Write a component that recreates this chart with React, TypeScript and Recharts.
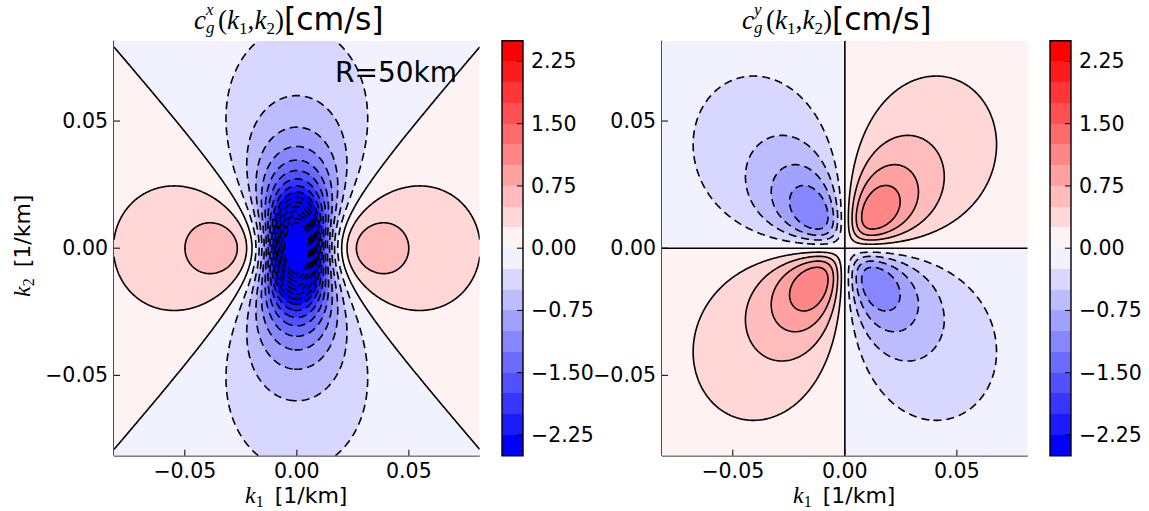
import React, { useMemo } from 'react';
import { ScatterChart, Scatter, XAxis, YAxis, ReferenceArea } from 'recharts';

// ---- data ----
const R_KM = 50; // deformation radius, "R=50km"
const BETA = 2e-11; // 1/(m s)
const K_MAX = 0.0816; // axis extent [1/km]
const AXIS_TICKS = [-0.05, 0, 0.05];
const FILL_LEVELS = [-2.5, -2.25, -2, -1.75, -1.5, -1.25, -1, -0.75, -0.5, -0.25, 0, 0.25, 0.5, 0.75, 1, 1.25, 1.5, 1.75, 2, 2.25, 2.5];
const COLORBAR_TICKS = [-2.25, -1.5, -0.75, 0, 0.75, 1.5, 2.25];
const LINE_LEVELS_X = [-4, -3.75, -3.5, -3.25, -3, -2.75, -2.5, -2.25, -2, -1.75, -1.5, -1.25, -1, -0.75, -0.5, -0.25, 0, 0.25, 0.5];
const LINE_LEVELS_Y = [-1, -0.75, -0.5, -0.25, 0, 0.25, 0.5, 0.75, 1];
const CORNERS = [
  { k1: -K_MAX, k2: -K_MAX },
  { k1: K_MAX, k2: K_MAX },
];

// ---- Rossby-wave group velocity fields [cm/s], k in 1/km ----
const F_DEF = 1 / (R_KM * R_KM);
const SCALE = BETA * 1e6 * 100;
const cgx = (k: number, l: number) => {
  const d = k * k + l * l + F_DEF;
  return (SCALE * (k * k - l * l - F_DEF)) / (d * d);
};
const cgy = (k: number, l: number) => {
  const d = k * k + l * l + F_DEF;
  return (SCALE * 2 * k * l) / (d * d);
};

const NB = FILL_LEVELS.length - 1;
const bandOf = (v: number) => {
  let i = Math.floor((v - FILL_LEVELS[0]) / (FILL_LEVELS[1] - FILL_LEVELS[0]));
  if (i < 0) i = 0;
  if (i > NB - 1) i = NB - 1;
  return i;
};
const bandColor = (i: number) => {
  const p = i / (NB - 1);
  if (p < 0.5) {
    const c = Math.round(255 * 2 * p);
    return `rgb(${c},${c},255)`;
  }
  const c = Math.round(255 * 2 * (1 - p));
  return `rgb(255,${c},${c})`;
};

// ---- marching squares (data space) ----
const GRID_N = 301;
function traceLevel(vals: Float64Array, n: number, c: Float64Array, level: number): number[][] {
  const M = n + 1;
  const adj = new Map<number, number[]>();
  const pts = new Map<number, [number, number]>();
  const v = (i: number, j: number) => vals[j * M + i];
  const hp = (i: number, j: number) => {
    const id = j * n + i;
    if (!pts.has(id)) {
      const a = v(i, j), b = v(i + 1, j);
      const t = (level - a) / (b - a);
      pts.set(id, [c[i] + t * (c[i + 1] - c[i]), c[j]]);
    }
    return id;
  };
  const vp = (i: number, j: number) => {
    const id = n * M + j * M + i;
    if (!pts.has(id)) {
      const a = v(i, j), b = v(i, j + 1);
      const t = (level - a) / (b - a);
      pts.set(id, [c[i], c[j] + t * (c[j + 1] - c[j])]);
    }
    return id;
  };
  const link = (a: number, b: number) => {
    if (!adj.has(a)) adj.set(a, []);
    if (!adj.has(b)) adj.set(b, []);
    adj.get(a)!.push(b);
    adj.get(b)!.push(a);
  };
  for (let j = 0; j < n; j++) {
    for (let i = 0; i < n; i++) {
      const a0 = v(i, j), a1 = v(i + 1, j), a2 = v(i + 1, j + 1), a3 = v(i, j + 1);
      const idx = (a0 >= level ? 1 : 0) | (a1 >= level ? 2 : 0) | (a2 >= level ? 4 : 0) | (a3 >= level ? 8 : 0);
      if (idx === 0 || idx === 15) continue;
      const B = () => hp(i, j), R = () => vp(i + 1, j), T = () => hp(i, j + 1), L = () => vp(i, j);
      const centerHigh = (a0 + a1 + a2 + a3) / 4 >= level;
      switch (idx) {
        case 1: case 14: link(L(), B()); break;
        case 2: case 13: link(B(), R()); break;
        case 3: case 12: link(L(), R()); break;
        case 4: case 11: link(R(), T()); break;
        case 6: case 9: link(B(), T()); break;
        case 7: case 8: link(L(), T()); break;
        case 5:
          if (centerHigh) { link(B(), R()); link(T(), L()); } else { link(L(), B()); link(R(), T()); }
          break;
        case 10:
          if (centerHigh) { link(L(), B()); link(R(), T()); } else { link(B(), R()); link(T(), L()); }
          break;
      }
    }
  }
  const used = new Set<number>();
  const polys: number[][] = [];
  const walk = (start: number) => {
    const out: number[] = [];
    let cur = start;
    while (true) {
      used.add(cur);
      const p = pts.get(cur)!;
      out.push(p[0], p[1]);
      const nb = adj.get(cur)!;
      let next = -1;
      for (const e of nb) if (!used.has(e)) { next = e; break; }
      if (next === -1) {
        if (cur !== start && nb.includes(start) && out.length > 4) {
          const s = pts.get(start)!;
          out.push(s[0], s[1]);
        }
        break;
      }
      cur = next;
    }
    if (out.length >= 4) polys.push(out);
  };
  for (const [e, nb] of adj) if (nb.length === 1 && !used.has(e)) walk(e);
  for (const e of adj.keys()) if (!used.has(e)) walk(e);
  return polys;
}

function buildContours(f: (k: number, l: number) => number, levels: number[]) {
  const n = GRID_N;
  const M = n + 1;
  const c = new Float64Array(M);
  for (let i = 0; i < M; i++) c[i] = -K_MAX + (i * 2 * K_MAX) / n;
  const vals = new Float64Array(M * M);
  for (let j = 0; j < M; j++) for (let i = 0; i < M; i++) vals[j * M + i] = f(c[i], c[j]);
  return levels.map((lv) => ({ level: lv, polys: traceLevel(vals, n, c, lv) }));
}

const CONTOURS_X = buildContours(cgx, LINE_LEVELS_X);
const CONTOURS_Y = buildContours(cgy, LINE_LEVELS_Y);

// ---- custom layer drawn by the Scatter "line" renderer (pixel points from library scales) ----
function FieldLayer(props: any) {
  const { points, field, contours } = props;
  const key = points && points.length === 2 ? points.map((p: any) => `${p.x},${p.y}`).join(';') : '';
  const drawn = useMemo(() => {
    if (!key) return null;
    const [a, b] = points;
    const sx = (b.x - a.x) / (2 * K_MAX);
    const sy = (b.y - a.y) / (2 * K_MAX);
    const toPx = (x: number) => a.x + (x + K_MAX) * sx;
    const toPy = (y: number) => a.y + (y + K_MAX) * sy;
    const dX = (px: number) => (px - a.x) / sx - K_MAX;
    const dY = (py: number) => (py - a.y) / sy - K_MAX;
    const left = Math.round(Math.min(a.x, b.x)), right = Math.round(Math.max(a.x, b.x));
    const top = Math.round(Math.min(a.y, b.y)), bottom = Math.round(Math.max(a.y, b.y));
    const paths: string[][] = Array.from({ length: NB }, () => []);
    for (let py = top; py < bottom; py++) {
      const yd = dY(py + 0.5);
      let runStart = left;
      let runBand = bandOf(field(dX(left + 0.5), yd));
      for (let px = left + 1; px <= right; px++) {
        const bnd = px < right ? bandOf(field(dX(px + 0.5), yd)) : -1;
        if (bnd !== runBand) {
          const w = px - runStart;
          paths[runBand].push(`M${runStart} ${py}h${w}v1h${-w}z`);
          runStart = px;
          runBand = bnd;
        }
      }
    }
    const lines = (contours as { level: number; polys: number[][] }[]).map((c) => {
      const d = c.polys
        .map((poly) => {
          let s = '';
          for (let i = 0; i < poly.length; i += 2) {
            s += (i === 0 ? 'M' : 'L') + toPx(poly[i]).toFixed(2) + ' ' + toPy(poly[i + 1]).toFixed(2);
          }
          return s;
        })
        .join('');
      return { level: c.level, d };
    });
    return { fills: paths.map((p) => p.join('')), lines };
  }, [key, field, contours]);
  if (!drawn) return null;
  return (
    <g>
      {drawn.fills.map((d, i) => (d ? <path key={`f${i}`} d={d} fill={bandColor(i)} stroke="none" shapeRendering="crispEdges" /> : null))}
      {drawn.lines.map((l, i) =>
        l.d ? (
          <path
            key={`l${i}`}
            d={l.d}
            fill="none"
            stroke="#000"
            strokeWidth={1.6}
            strokeLinejoin="round"
            strokeDasharray={l.level < 0 ? '8 5' : undefined}
          />
        ) : null
      )}
    </g>
  );
}

const EmptyShape = () => <g />;

// ---- ticks ----
const FONT = '"DejaVu Sans", sans-serif';
const MATH = '"Liberation Serif", "DejaVu Serif", serif';
const TICK_FS = 20.5;
const TICK_LEN = 6;
const fmt = (v: number) => (v < 0 ? '\u2212' : '') + Math.abs(v).toFixed(2);

const BottomTick = ({ x, y, payload }: any) => (
  <g>
    <line x1={x} x2={x} y1={y} y2={y - TICK_LEN} stroke="#000" strokeWidth={1} />
    <text x={x} y={y + 22} textAnchor="middle" fontFamily={FONT} fontSize={TICK_FS} fill="#000">
      {fmt(payload.value)}
    </text>
  </g>
);
const TopTick = ({ x, y }: any) => (
  <line x1={x} x2={x} y1={y} y2={y + TICK_LEN} stroke="#000" strokeWidth={1} />
);
const LeftTick = ({ x, y, payload }: any) => (
  <g>
    <line x1={x} x2={x + TICK_LEN} y1={y} y2={y} stroke="#000" strokeWidth={1} />
    <text x={x - 6} y={y + 7} textAnchor="end" fontFamily={FONT} fontSize={TICK_FS} fill="#000">
      {fmt(payload.value)}
    </text>
  </g>
);
const RightTick = ({ x, y }: any) => (
  <line x1={x} x2={x - TICK_LEN} y1={y} y2={y} stroke="#000" strokeWidth={1} />
);
const ColorbarTick = ({ x, y, payload }: any) => (
  <g>
    <line x1={x} x2={x - 6} y1={y} y2={y} stroke="#000" strokeWidth={1} />
    <text x={x + 8} y={y + 7} textAnchor="start" fontFamily={FONT} fontSize={TICK_FS} fill="#000">
      {fmt(payload.value)}
    </text>
  </g>
);

const AXIS_LINE = { stroke: '#000', strokeWidth: 1.4 };
const H = 511;

function Panel({ field, contours, left }: any) {
  return (
    <div style={{ position: 'absolute', left, top: 0, width: 500, height: H }}>
      <ScatterChart width={500} height={H} margin={{ top: 40.7, right: 20.3, bottom: 15.3, left: 54 }}>
        <XAxis xAxisId="b" type="number" dataKey="k1" domain={[-K_MAX, K_MAX]} ticks={AXIS_TICKS} interval={0} allowDataOverflow orientation="bottom" height={40} tickSize={0} tickMargin={0} tickLine={false} tick={<BottomTick />} axisLine={AXIS_LINE} />
        <XAxis xAxisId="t" type="number" dataKey="k1" domain={[-K_MAX, K_MAX]} ticks={AXIS_TICKS} interval={0} allowDataOverflow orientation="top" height={0} tickSize={0} tickMargin={0} tickLine={false} tick={<TopTick />} axisLine={AXIS_LINE} />
        <YAxis yAxisId="l" type="number" dataKey="k2" domain={[-K_MAX, K_MAX]} ticks={AXIS_TICKS} interval={0} allowDataOverflow orientation="left" width={60} tickSize={0} tickMargin={0} tickLine={false} tick={<LeftTick />} axisLine={AXIS_LINE} />
        <YAxis yAxisId="r" type="number" dataKey="k2" domain={[-K_MAX, K_MAX]} ticks={AXIS_TICKS} interval={0} allowDataOverflow orientation="right" width={0} tickSize={0} tickMargin={0} tickLine={false} tick={<RightTick />} axisLine={AXIS_LINE} />
        <Scatter
          xAxisId="b"
          yAxisId="l"
          data={CORNERS}
          dataKey="k2"
          shape={EmptyShape}
          line={<FieldLayer field={field} contours={contours} />}
          isAnimationActive={false}
        />
      </ScatterChart>
    </div>
  );
}

function Colorbar({ left }: any) {
  return (
    <div style={{ position: 'absolute', left, top: 0, width: 160, height: H }}>
      <ScatterChart width={160} height={H} margin={{ top: 40.7, right: 7, bottom: 55.3, left: 62 }}>
        <XAxis type="number" dataKey="x" domain={[0, 1]} hide allowDataOverflow />
        <YAxis type="number" dataKey="y" domain={[FILL_LEVELS[0], FILL_LEVELS[NB]]} ticks={COLORBAR_TICKS} interval={0} allowDataOverflow orientation="right" width={70} tickSize={0} tickMargin={0} tickLine={false} tick={<ColorbarTick />} axisLine={false} />
        {FILL_LEVELS.slice(0, NB).map((lv, i) => (
          <ReferenceArea key={i} x1={0} x2={1} y1={lv} y2={FILL_LEVELS[i + 1]} fill={bandColor(i)} fillOpacity={1} stroke="none" shapeRendering="crispEdges" ifOverflow="visible" />
        ))}
        <ReferenceArea x1={0} x2={1} y1={FILL_LEVELS[0]} y2={FILL_LEVELS[NB]} fill="none" stroke="#000" strokeWidth={1.4} ifOverflow="visible" />
        <Scatter data={[{ x: 0.5, y: 0 }]} dataKey="y" shape={EmptyShape} isAnimationActive={false} />
      </ScatterChart>
    </div>
  );
}

function Title({ x0, sup }: { x0: number; sup: string }) {
  return (
    <text fill="#000" fontFamily={MATH} fontSize={27}>
      <tspan x={x0} y={29} fontStyle="italic">c</tspan>
      <tspan x={x0 + 12} y={15} fontStyle="italic" fontSize={17}>{sup}</tspan>
      <tspan x={x0 + 12} y={33} fontStyle="italic" fontSize={17}>g</tspan>
      <tspan x={x0 + 24} y={29}>(</tspan>
      <tspan x={x0 + 33} y={29} fontStyle="italic">k</tspan>
      <tspan x={x0 + 45} y={34} fontSize={17}>1</tspan>
      <tspan x={x0 + 53.5} y={29}>,</tspan>
      <tspan x={x0 + 60.5} y={29} fontStyle="italic">k</tspan>
      <tspan x={x0 + 72.5} y={34} fontSize={17}>2</tspan>
      <tspan x={x0 + 81} y={29}>)</tspan>
      <tspan x={x0 + 90} y={30} fontFamily={FONT} fontSize={31.5}>[cm/s]</tspan>
    </text>
  );
}

function XLabel({ x0 }: { x0: number }) {
  return (
    <text x={x0} y={503} fill="#000">
      <tspan fontFamily={MATH} fontStyle="italic" fontSize={24}>k</tspan>
      <tspan fontFamily={MATH} fontSize={16} dy={4}>1</tspan>
      <tspan fontFamily={FONT} fontSize={22} dy={-4}>{'\u2002[1/km]'}</tspan>
    </text>
  );
}

export default function App() {
  return (
    <div style={{ position: 'absolute', left: 0, top: 0, width: 1149, height: H, background: '#fff', overflow: 'hidden' }}>
      <Panel field={cgx} contours={CONTOURS_X} left={0} />
      <Panel field={cgy} contours={CONTOURS_Y} left={548} />
      <Colorbar left={440} />
      <Colorbar left={988} />
      <svg width={1149} height={H} style={{ position: 'absolute', left: 0, top: 0, pointerEvents: 'none' }}>
        <Title x0={194} sup="x" />
        <Title x0={742} sup="y" />
        <XLabel x0={245} />
        <XLabel x0={793} />
        <text transform="translate(30,297) rotate(-90)" fill="#000">
          <tspan fontFamily={MATH} fontStyle="italic" fontSize={24}>k</tspan>
          <tspan fontFamily={MATH} fontSize={16} dy={4}>2</tspan>
          <tspan fontFamily={FONT} fontSize={22} dy={-4}>{'\u2002[1/km]'}</tspan>
        </text>
        <text x={335} y={82} fontFamily={FONT} fontSize={28} fill="#000">R=50km</text>
      </svg>
    </div>
  );
}
